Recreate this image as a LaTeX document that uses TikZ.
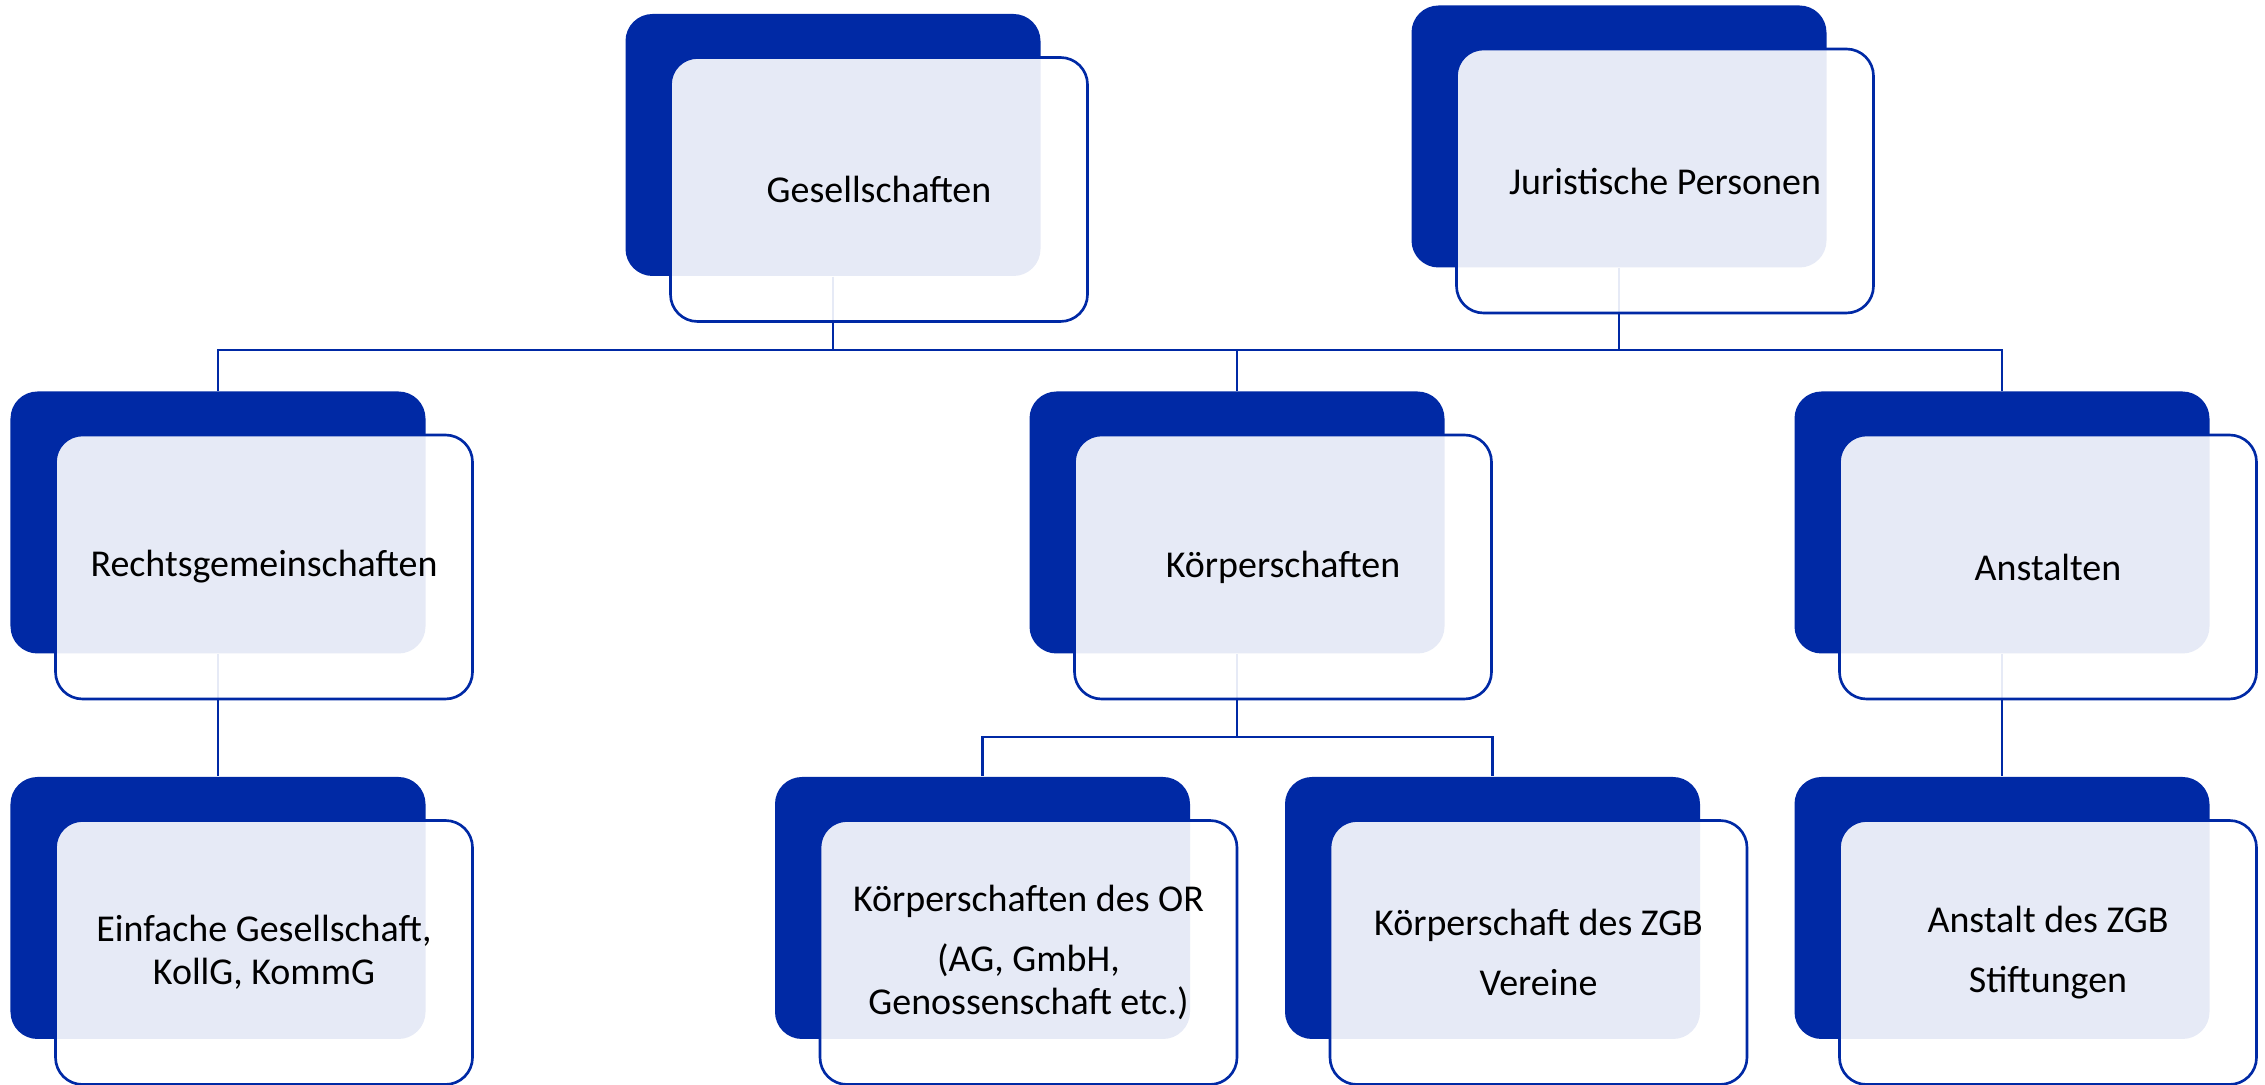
\documentclass[tikz,border=0pt]{standalone}
\usepackage{fontspec}
\setmainfont{Carlito}
\usetikzlibrary{positioning}
\definecolor{orgblue}{RGB}{0,41,165}

\begin{document}
\begin{tikzpicture}[node distance=3cm, on grid,
		back/.style={rectangle, rounded corners=0.27cm, fill=orgblue, inner sep=0pt,
			minimum width=4.15cm, minimum height=2.62cm},
		front/.style={rectangle, rounded corners=0.27cm, draw=orgblue, line width=0.75pt,
			fill=white, fill opacity=0.9, text opacity=1, inner sep=0pt,
			minimum width=4.17cm, minimum height=2.64cm, align=center,
			font=\fontsize{10.8}{12.2}\selectfont,
			below right=0.445cm and 0.46cm of #1},
		link/.style={draw=orgblue, line width=0.75pt}]
		\useasboundingbox (0,0) rectangle (22.65,10.85);

		% back layer
		\node[back] 	(ges) 	at (8.33,9.40) 						{};
		\node[back] 	(jur) 	at (16.19,9.485) 					{};
		\node[back] 	(rg) 	at (2.18,5.625) 					{};
		\node[back] 	(koe) 	[right=10.19cm of rg] 				{};
		\node[back] 	(ans) 	[right=7.65cm of koe] 				{};
		\node[back] 	(ein) 	[below=3.855cm of rg] 				{};
		\node[back] 	(kor) 	[below left=3.855cm and 2.545cm of koe] 	{};
		\node[back] 	(kzgb) 	[below right=3.855cm and 2.555cm of koe] 	{};
		\node[back] 	(azgb) 	[below=3.855cm of ans] 				{};

		% connectors
		\coordinate (topbus) at (0,7.35);
		\coordinate (koebus) at (0,3.48);
		\draw[link] (ges.south) -- (ges.south |- topbus) -| (rg.north);
		\draw[link] (ges.south |- topbus) -| (koe.north);
		\draw[link] (jur.south) -- (jur.south |- topbus) -| (ans.north);
		\draw[link] (jur.south |- topbus) -| (koe.north);
		\draw[link] (rg.south) -- (ein.north);
		\draw[link] (koe.south) -- (koe.south |- koebus) -| (kor.north);
		\draw[link] (koe.south |- koebus) -| (kzgb.north);
		\draw[link] (ans.south) -- (azgb.north);

		% front layer
		\node[front=ges] 	(gesF) 	{Gesellschaften};
		\node[front=jur] 	(jurF) 	{Juristische Personen};
		\node[front=rg] 	(rgF) 	{Rechtsgemeinschaften};
		\node[front=koe] 	(koeF) 	{Körperschaften};
		\node[front=ans] 	(ansF) 	{Anstalten};
		\node[front=ein] 	(einF) 	{Einfache Gesellschaft,\\KollG, KommG};
		\node[front=kor] 	(korF) 	{Körperschaften des OR\\[5pt](AG, GmbH,\\Genossenschaft etc.)};
		\node[front=kzgb] 	(kzgbF) {Körperschaft des ZGB\\[5pt]Vereine};
		\node[front=azgb] 	(azgbF) {Anstalt des ZGB\\[5pt]Stiftungen};
	\end{tikzpicture}
\end{document}
